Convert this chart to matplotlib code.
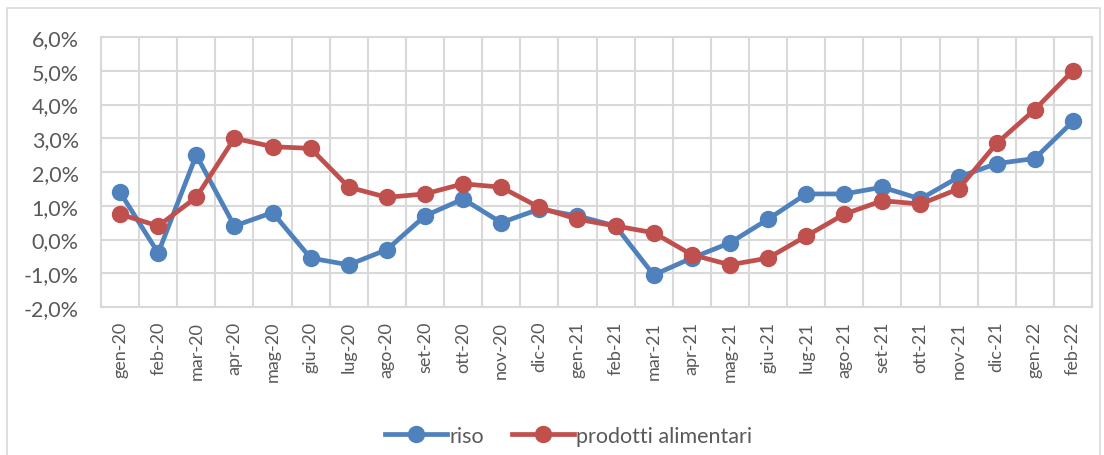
import matplotlib
matplotlib.use("Agg")
import matplotlib.pyplot as plt
from matplotlib.ticker import FuncFormatter, MultipleLocator, FixedLocator
from matplotlib.patches import Rectangle

months = ["gen-20", "feb-20", "mar-20", "apr-20", "mag-20", "giu-20", "lug-20", "ago-20",
          "set-20", "ott-20", "nov-20", "dic-20", "gen-21", "feb-21", "mar-21", "apr-21",
          "mag-21", "giu-21", "lug-21", "ago-21", "set-21", "ott-21", "nov-21", "dic-21",
          "gen-22", "feb-22"]
riso = [1.4, -0.4, 2.5, 0.4, 0.8, -0.55, -0.75, -0.3, 0.7, 1.2, 0.5, 0.9, 0.7, 0.4,
        -1.05, -0.55, -0.1, 0.6, 1.35, 1.35, 1.55, 1.2, 1.85, 2.25, 2.4, 3.5]
prodotti = [0.75, 0.4, 1.25, 3.0, 2.75, 2.7, 1.55, 1.25, 1.35, 1.65, 1.55, 0.95, 0.6, 0.4,
            0.2, -0.45, -0.75, -0.55, 0.1, 0.75, 1.15, 1.05, 1.5, 2.85, 3.85, 5.0]

plt.rcParams['font.family'] = ['Lato', 'DejaVu Sans']
TXT = "#595959"
GRID = "#D9D9D9"
BLUE = "#4F81BD"
RED = "#C0504D"

fig = plt.figure(figsize=(11.04, 4.56), dpi=100)
fig.patches.append(Rectangle((7/1104, -0.01), 1093/1104, 1 - 9/456 + 0.01, transform=fig.transFigure,
                             fill=False, edgecolor=GRID, linewidth=1.2))
ax = fig.add_axes([101/1104, 1 - 308/456, (1092-101)/1104, (308-38)/456])

x = list(range(len(months)))
ax.plot(x, riso, color=BLUE, lw=3.4, marker='o', ms=11.5, label="riso", zorder=3)
ax.plot(x, prodotti, color=RED, lw=3.4, marker='o', ms=11.5, label="prodotti alimentari", zorder=4)

ax.set_xlim(-0.5, len(months) - 0.5)
ax.set_ylim(-2, 6)
ax.yaxis.set_major_locator(MultipleLocator(1))
ax.yaxis.set_major_formatter(FuncFormatter(lambda v, p: f"{v:.1f}%".replace(".", ",")))
ax.set_xticks(x)
ax.set_xticklabels(months, rotation=90)
ax.xaxis.set_minor_locator(FixedLocator([i + 0.5 for i in range(-1, len(months))]))
ax.grid(True, which='minor', axis='x', color=GRID, lw=1.5)
ax.grid(True, which='major', axis='y', color=GRID, lw=1.5)
ax.set_axisbelow(True)
for s in ax.spines.values():
    s.set_color(GRID)
    s.set_linewidth(1.5)
ax.tick_params(which='both', length=0)
ax.tick_params(axis='y', labelsize=15.5, colors=TXT, pad=16)
ax.tick_params(axis='x', labelsize=13, colors=TXT, pad=10)

fig.legend(loc='center', bbox_to_anchor=(0.515, 1 - 437/456), ncol=2, frameon=False,
           fontsize=15.5, labelcolor=TXT, handlelength=2.9, columnspacing=1.3, handletextpad=0.1)

fig.savefig("out.png", dpi=100)
